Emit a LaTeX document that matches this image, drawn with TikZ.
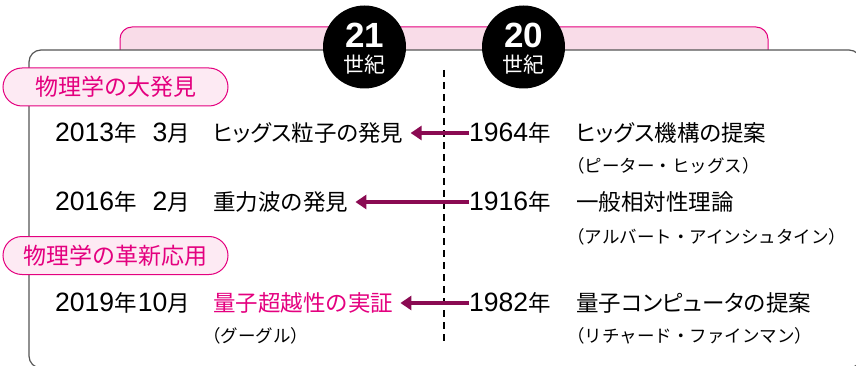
\documentclass[tikz,border=0pt]{standalone}
\usepackage{fontspec}
\setmainfont{Noto Sans CJK JP}
\newfontfamily\latf{Liberation Sans}[Scale=1.18]
\newfontfamily\latbold{Liberation Sans Bold}
\usetikzlibrary{arrows.meta}
\definecolor{mag}{HTML}{E4007F}
\definecolor{tabpink}{HTML}{F9DCE8}
\definecolor{pillpink}{HTML}{FDEAF3}
\definecolor{arrcol}{HTML}{8A0A52}
\definecolor{boxgray}{HTML}{555555}
\newcommand\numtxt[1]{{\latf #1}}
\newcommand\propkana{\addfontfeatures{RawFeature=+palt}}
\begin{document}
\begin{tikzpicture}[x=1pt,y=-1pt,
  maintext/.style={inner sep=0pt, font=\fontsize{22.5}{22.5}\selectfont, text height=19.8pt, text depth=2.7pt},
  subtext/.style={inner sep=0pt, font=\fontsize{17.5}{17.5}\selectfont, text height=15.4pt, text depth=2.1pt},
  pillbox/.style={draw=mag, fill=pillpink, line width=1pt, rounded corners=19pt,
    minimum width=225pt, minimum height=38pt, inner sep=0pt, text=mag,
    font=\fontsize{23}{23}\selectfont, text height=20.2pt, text depth=2.8pt},
  century/.style={circle, fill=black, minimum size=83pt, inner sep=0pt},
  centnum/.style={inner sep=0pt, text=white, font=\latbold\fontsize{35}{35}\selectfont},
  centtxt/.style={inner sep=0pt, text=white, font=\fontsize{21}{21}\selectfont, text height=18.5pt, text depth=2.5pt},
  arr/.style={draw=arrcol, line width=4.5pt, -{Triangle[length=11pt,width=14pt]}, shorten >=7pt},
  divider/.style={line width=1.2pt, dash pattern=on 7pt off 5pt}
]
\clip (0,0) rectangle (856,366);
% tab
\filldraw[draw=mag, fill=tabpink, line width=1pt, rounded corners=12pt]
  (120,50) -- (120,27) -- (768,27) -- (768,50);
% main box
\draw[boxgray, line width=1.2pt, rounded corners=12pt] (29,50) rectangle (861,368);
% century circles
\node[century] (c21) at (364.5,47) {};
\node[centnum] (c21n) at (364.5,35) {21};
\node[centtxt] (c21t) at (364.5,65) {世紀};
\node[century] (c20) at (523.5,47) {};
\node[centnum] (c20n) at (523.5,35) {20};
\node[centtxt] (c20t) at (523.5,65) {世紀};
% divider
\coordinate (dtop) at (444,70);
\coordinate (dbot) at (444,343);
\draw[divider] (dtop) -- (dbot);
% pills
\node[pillbox] (p1) at (115.5,87) {物理学の大発見};
\node[pillbox] (p2) at (115.5,255.5) {物理学の革新応用};
% row 1
\node[maintext, anchor=west] (d1) at (55,133) {\numtxt{2013}年};
\node[maintext, anchor=east] (m1) at (190,133) {\numtxt{3}月};
\node[maintext, anchor=west] (e1) at (213,133) {\propkana ヒッグス粒子の発見};
\node[maintext, anchor=west] (y1) at (469,133) {\numtxt{1964}年};
\node[maintext, anchor=west] (t1) at (576,133) {\propkana ヒッグス機構の提案};
\node[subtext, anchor=west] (s1) at (567,165.5) {（ピーター・ヒッグス）};
% row 2
\node[maintext, anchor=west] (d2) at (55,202) {\numtxt{2016}年};
\node[maintext, anchor=east] (m2) at (190,202) {\numtxt{2}月};
\node[maintext, anchor=west] (e2) at (213,202) {重力波の発見};
\node[maintext, anchor=west] (y2) at (469,202) {\numtxt{1916}年};
\node[maintext, anchor=west] (t2) at (576,202) {一般相対性理論};
\node[subtext, anchor=west] (s2) at (567,236.5) {（アルバート・アインシュタイン）};
% row 3
\node[maintext, anchor=west] (d3) at (55,303) {\numtxt{2019}年};
\node[maintext, anchor=east] (m3) at (190,303) {\numtxt{10}月};
\node[maintext, anchor=west, text=mag] (e3) at (213,303) {量子超越性の実証};
\node[subtext, anchor=west] (g3) at (203,335.5) {（グーグル）};
\node[maintext, anchor=west] (y3) at (469,303) {\numtxt{1982}年};
\node[maintext, anchor=west] (t3) at (576,303) {\propkana 量子コンピュータの提案};
\node[subtext, anchor=west] (s3) at (567,335.5) {（リチャード・ファインマン）};
% arrows
\draw[arr] (y1.west) -- (e1.east);
\draw[arr] (y2.west) -- (e2.east);
\draw[arr] (y3.west) -- (e3.east);
\end{tikzpicture}
\end{document}
